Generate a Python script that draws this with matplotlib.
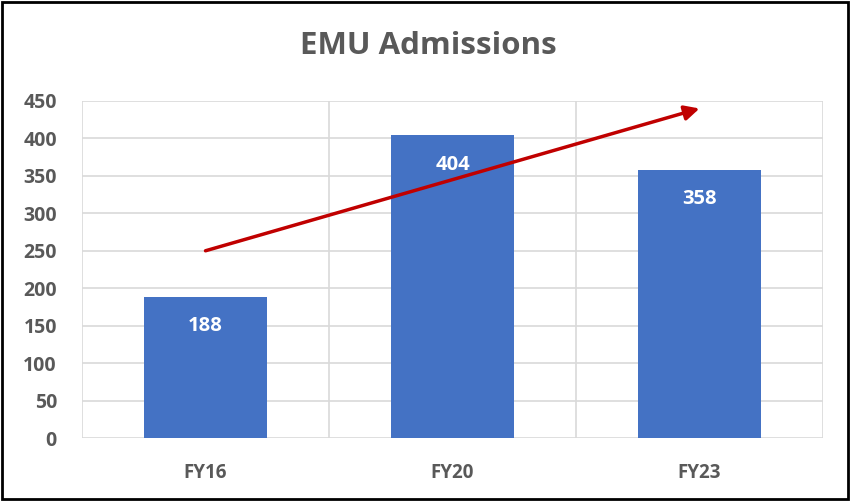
import matplotlib.pyplot as plt
from matplotlib.patches import Rectangle

years = ['FY16', 'FY20', 'FY23']
admissions = [188, 404, 358]
y_ticks = [0, 50, 100, 150, 200, 250, 300, 350, 400, 450]
# trend arrow, data coords (category index, value)
arrow_start = (0, 250)
arrow_end = (2, 440)

plt.rcParams['font.family'] = ['Open Sans', 'DejaVu Sans']

fig = plt.figure(figsize=(8.51, 5.01), dpi=100)
ax = fig.add_axes([82/851, 63/501, 741/851, 337/501])

x = list(range(len(years)))
bars = ax.bar(x, admissions, width=0.5, color='#4472C4', zorder=3)

for xi, v in zip(x, admissions):
    ax.annotate(str(v), (xi, v), xytext=(0, -21), textcoords='offset points',
                ha='center', va='center', color='white', fontsize=14.5, fontweight='bold', zorder=4)

ax.annotate('', xy=arrow_end, xytext=arrow_start,
            arrowprops=dict(arrowstyle='-|>', color='#C00000', lw=2.5, mutation_scale=22,
                            shrinkA=0, shrinkB=0), zorder=5)

ax.set_xlim(-0.5, 2.5)
ax.set_ylim(0, 450)
ax.set_yticks(y_ticks)
ax.set_xticks(x)
ax.set_xticklabels(years)

# gridlines: horizontal at ticks, vertical at category boundaries
for yv in y_ticks:
    ax.axhline(yv, color='#D9D9D9', lw=1.2, zorder=1)
for xv in [-0.5, 0.5, 1.5, 2.5]:
    ax.axvline(xv, color='#D9D9D9', lw=1.2, zorder=1)

for s in ax.spines.values():
    s.set_visible(False)
ax.tick_params(axis='both', length=0, colors='#595959')
ax.tick_params(axis='y', pad=18, labelsize=14)
ax.tick_params(axis='x', pad=18, labelsize=13.5)
for lab in ax.get_xticklabels() + ax.get_yticklabels():
    lab.set_fontweight('bold')

fig.text(0.503, 1 - 46/501, 'EMU Admissions', ha='center', va='center',
         fontsize=22.5, fontweight='bold', color='#595959')

fig.patches.append(Rectangle((0.002, 0.003), 0.995, 0.994, transform=fig.transFigure,
                             fill=False, edgecolor='black', lw=2))

fig.savefig('out.png', dpi=100)
